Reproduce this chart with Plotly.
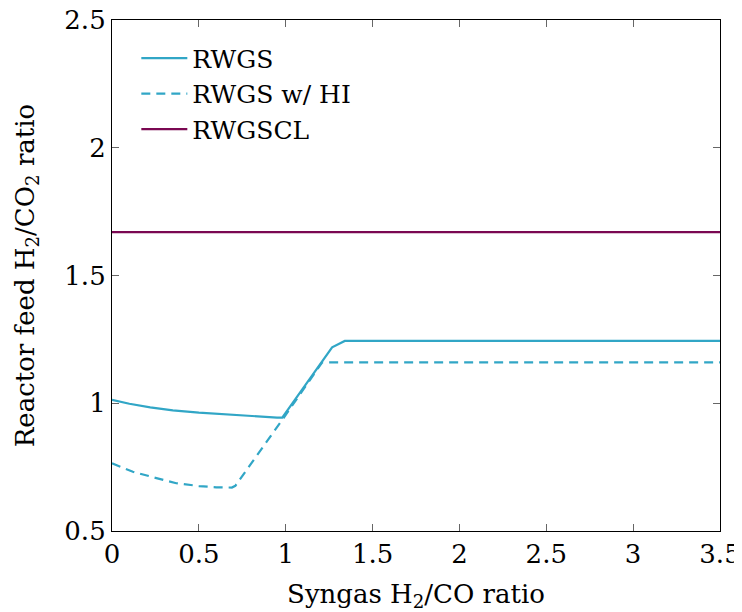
import plotly.graph_objects as go

# syngas H2/CO ratio vs reactor feed H2/CO2 ratio
rwgs_x = [0, 0.1, 0.22, 0.35, 0.5, 0.65, 0.8, 0.95, 0.98, 1.267, 1.34, 3.5]
rwgs_y = [1.013, 0.998, 0.984, 0.972, 0.963, 0.956, 0.95, 0.944, 0.944, 1.219, 1.244, 1.244]

rwgs_hi_x = [0, 0.12, 0.25, 0.37, 0.5, 0.6, 0.69, 0.71, 0.98, 1.21, 3.5]
rwgs_hi_y = [0.765, 0.732, 0.708, 0.687, 0.676, 0.671, 0.67, 0.677, 0.935, 1.16, 1.16]

rwgscl_x = [0, 3.5]
rwgscl_y = [1.67, 1.67]

x_ticks = [0, 0.5, 1, 1.5, 2, 2.5, 3, 3.5]
y_ticks = [0.5, 1, 1.5, 2, 2.5]

cyan = 'rgb(49,166,198)'
purple = 'rgb(122,8,82)'
font = 'DejaVu Serif'
fsize = 26

fig = go.Figure()
fig.add_trace(go.Scatter(x=rwgs_x, y=rwgs_y, mode='lines', name='RWGS',
                         line=dict(color=cyan, width=2.2), legendgroup='a'))
fig.add_trace(go.Scatter(x=rwgs_hi_x, y=rwgs_hi_y, mode='lines', name='RWGS w/ HI',
                         line=dict(color=cyan, width=2.2, dash='9px,6px'), legendgroup='b'))
fig.add_trace(go.Scatter(x=rwgscl_x, y=rwgscl_y, mode='lines', name='RWGSCL',
                         line=dict(color=purple, width=2.2), legendgroup='c'))

axis_style = dict(
    showgrid=False, zeroline=False, showline=True, linecolor='black', linewidth=1.2,
    mirror='allticks', ticks='inside', ticklen=7, tickcolor='#666', tickwidth=1,
    ticklabeloverflow='allow', automargin=False,
    tickfont=dict(family=font, size=fsize, color='black'),
)

# page body adds an 8px margin, so the figure is kept a little smaller than the window
fig.update_layout(
    width=734, height=604,
    margin=dict(l=104, r=22, t=12, b=81),
    plot_bgcolor='white', paper_bgcolor='white',
    font=dict(family=font, size=fsize, color='black'),
    xaxis=dict(range=[0, 3.5], tickvals=x_ticks, ticktext=[f'{v:g}' for v in x_ticks],
               title=dict(text='Syngas H<sub>2</sub>/CO ratio', font=dict(size=fsize), standoff=16),
               **axis_style),
    yaxis=dict(range=[0.5, 2.5], tickvals=y_ticks, ticktext=[f'{v:g}' for v in y_ticks],
               title=dict(text='Reactor feed H<sub>2</sub>/CO<sub>2</sub> ratio', font=dict(size=fsize), standoff=22),
               **axis_style),
    legend=dict(x=0.04, y=0.97, xanchor='left', yanchor='top', bgcolor='rgba(0,0,0,0)',
                traceorder='grouped', tracegroupgap=0, itemwidth=46,
                font=dict(family=font, size=25)),
)

fig.write_html('out.html')
